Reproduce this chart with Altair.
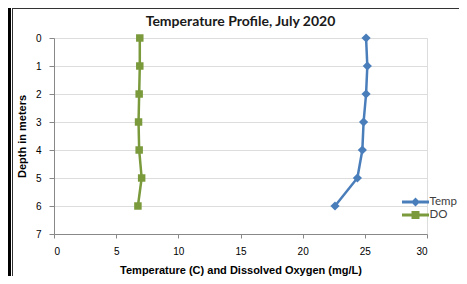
import altair as alt
import pandas as pd

depths = [0, 1, 2, 3, 4, 5, 6]
temp = [25.1, 25.2, 25.1, 24.9, 24.8, 24.4, 22.6]
dox = [6.9, 6.9, 6.85, 6.8, 6.85, 7.05, 6.75]
series = ["Temp", "DO"]
colors = ["#4A7EBB", "#7A9A3C"]
x_ticks = [0, 5, 10, 15, 20, 25, 30]
y_ticks = [0, 1, 2, 3, 4, 5, 6, 7]
title_text = ["Temperature Profile, July 2020"]

df = pd.DataFrame({
    "depth": depths * 2,
    "value": temp + dox,
    "series": ["Temp"] * len(depths) + ["DO"] * len(depths),
})
one = pd.DataFrame({"a": [0]})
tdf = pd.DataFrame({"t": title_text})

FONT = "Lato"
GRAY = "#868686"

xscale = alt.Scale(domain=[0, 30], nice=False, zero=False)
yscale = alt.Scale(domain=[0, 7], reverse=True, nice=False)

x_enc = alt.X("value:Q", scale=xscale, axis=alt.Axis(
    values=x_ticks, title="Temperature (C) and Dissolved Oxygen (mg/L)",
    grid=False, tickSize=4, labelPadding=8, titleY=36, titleBaseline="middle"))
y_enc = alt.Y("depth:Q", scale=yscale, axis=alt.Axis(
    values=y_ticks, title="Depth in meters", grid=True, tickSize=5,
    labelPadding=8, titleX=-32, titleY=98, titleAngle=-90,
    titleBaseline="middle"))

layers = []
shapes = {"Temp": ("diamond", 85), "DO": ("square", 56)}
for s, c in zip(series, colors):
    base = alt.Chart(df).transform_filter(alt.datum.series == s)
    layers.append(base.mark_line(color=c, strokeWidth=2.5).encode(
        x=x_enc, y=y_enc, order=alt.Order("depth:Q")))
    shp, sz = shapes[s]
    layers.append(base.mark_point(filled=True, shape=shp, size=sz, color=c,
                                  opacity=1).encode(x=x_enc, y=y_enc))

bar = "M-1.8,-0.2H1.8V0.2H-1.8Z"
diamond = "M0,-0.6L0.6,0L0,0.6L-0.6,0Z"
square = "M-0.53,-0.53H0.53V0.53H-0.53Z"
leg = alt.Legend(title=None, orient="none", legendX=354, legendY=156.5,
                 padding=0, rowPadding=0, labelOffset=6.5, symbolSize=225,
                 labelFont=FONT, labelFontSize=11.5, labelColor="#404040",
                 symbolStrokeWidth=0)
legend_layer = alt.Chart(df).transform_filter("datum.depth < 0").mark_point(
    filled=True, opacity=1).encode(
    x=x_enc, y=y_enc,
    color=alt.Color("series:N", scale=alt.Scale(domain=series, range=colors),
                    legend=leg),
    shape=alt.Shape("series:N",
                    scale=alt.Scale(domain=series,
                                    range=[bar + " " + diamond, bar + " " + square]),
                    legend=leg),
)
layers.append(legend_layer)

# chart title as text
layers.append(alt.Chart(tdf).mark_text(
    font=FONT, fontSize=14, fontWeight="bold", color="#1a1a1a",
    align="center", baseline="alphabetic").encode(
    text="t:N", x=alt.value(186.5), y=alt.value(-12)))

# outer frame decoration
layers.append(alt.Chart(one).mark_rect(color="black").encode(
    x=alt.value(-46), x2=alt.value(-43), y=alt.value(-30), y2=alt.value(238)))
layers.append(alt.Chart(one).mark_rule(color="#333333", strokeWidth=1).encode(
    x=alt.value(-41.5), y=alt.value(-30), y2=alt.value(238)))
layers.append(alt.Chart(one).mark_rule(color="#333333", strokeWidth=1).encode(
    x=alt.value(-42), x2=alt.value(405), y=alt.value(-29.5)))

chart = alt.layer(*layers).properties(
    width=373, height=196,
    padding={"left": 46, "top": 30, "right": 32, "bottom": 42},
    autosize=alt.AutoSizeParams(type="none"),
).configure_view(stroke=GRAY, strokeWidth=1).configure_axis(
    domainColor=GRAY, tickColor=GRAY, gridColor=GRAY, gridOpacity=1,
    labelColor="#404040", labelFont=FONT, labelFontSize=13,
    titleFont=FONT, titleFontSize=13, titleFontWeight="bold",
    titleColor="#1a1a1a",
).configure(background="white")

chart.save("out.html", embed_options={"renderer": "svg", "actions": False})
